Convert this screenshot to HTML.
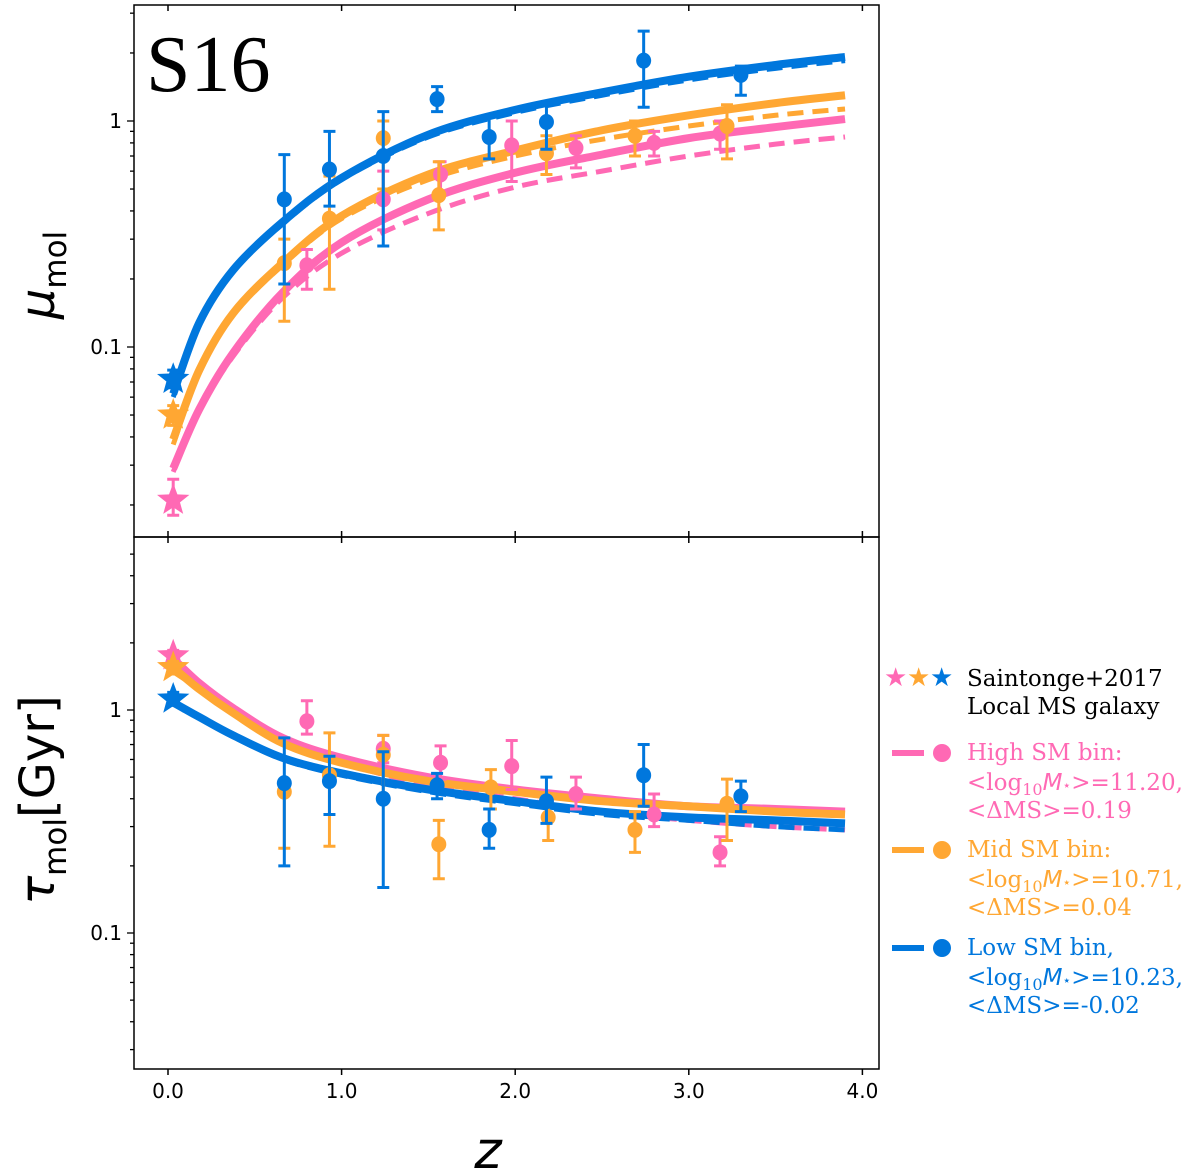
<!DOCTYPE html>
<html><head><meta charset="utf-8"><style>
body{margin:0;background:#fff;width:1200px;height:1174px;overflow:hidden}
svg{display:block}
.tk{font-family:"DejaVu Sans",sans-serif;font-size:20px;fill:#000}
.lg{font-family:"DejaVu Serif",serif;font-size:23px}
</style></head><body>
<svg id="c" width="1200" height="1174" xmlns="http://www.w3.org/2000/svg">
<rect x="134" y="5" width="745" height="532" fill="none" stroke="#000" stroke-width="1.5"/>
<rect x="134" y="537" width="745" height="532" fill="none" stroke="#000" stroke-width="1.5"/>
<text x="146" y="91" font-family="'Liberation Serif',serif" font-size="80">S16</text>
<text transform="translate(54,275) rotate(-90)" text-anchor="middle" font-family="'DejaVu Sans',sans-serif" font-size="48"><tspan font-style="italic">μ</tspan><tspan font-size="31" dy="12">mol</tspan></text>
<text transform="translate(54,800) rotate(-90)" text-anchor="middle" font-family="'DejaVu Sans',sans-serif" font-size="48"><tspan font-style="italic">τ</tspan><tspan font-size="31" dy="12">mol</tspan><tspan dy="-12">[Gyr]</tspan></text>
<text x="488" y="1168" text-anchor="middle" font-family="'DejaVu Sans',sans-serif" font-style="italic" font-size="52">z</text>
<g id="legend">
<text x="884" y="686" fill="#ff69b4" font-size="26">★</text>
<text x="907" y="686" fill="#ffa733" font-size="26">★</text>
<text x="930" y="686" fill="#0077dd" font-size="26">★</text>
<text class="lg" x="967" y="686" fill="#000">Saintonge+2017</text>
<text class="lg" x="967" y="714" fill="#000">Local MS galaxy</text>
<line x1="892" y1="753" x2="924" y2="753" stroke="#ff69b4" stroke-width="6"/>
<circle cx="942" cy="753" r="9" fill="#ff69b4"/>
<text class="lg" x="967" y="760" fill="#ff69b4">High SM bin:</text>
<text class="lg" x="967" y="790" fill="#ff69b4">&lt;log<tspan font-size="16" dy="5">10</tspan><tspan dy="-5" font-family="'DejaVu Sans',sans-serif" font-style="italic">M</tspan><tspan font-size="14">⋆</tspan>&gt;=11.20,</text>
<text class="lg" x="967" y="818" fill="#ff69b4">&lt;ΔMS&gt;=0.19</text>
<line x1="892" y1="850" x2="924" y2="850" stroke="#ffa733" stroke-width="6"/>
<circle cx="942" cy="850" r="9" fill="#ffa733"/>
<text class="lg" x="967" y="857" fill="#ffa733">Mid SM bin:</text>
<text class="lg" x="967" y="887" fill="#ffa733">&lt;log<tspan font-size="16" dy="5">10</tspan><tspan dy="-5" font-family="'DejaVu Sans',sans-serif" font-style="italic">M</tspan><tspan font-size="14">⋆</tspan>&gt;=10.71,</text>
<text class="lg" x="967" y="915" fill="#ffa733">&lt;ΔMS&gt;=0.04</text>
<line x1="892" y1="948" x2="924" y2="948" stroke="#0077dd" stroke-width="6"/>
<circle cx="942" cy="948" r="9" fill="#0077dd"/>
<text class="lg" x="967" y="955" fill="#0077dd">Low SM bin,</text>
<text class="lg" x="967" y="985" fill="#0077dd">&lt;log<tspan font-size="16" dy="5">10</tspan><tspan dy="-5" font-family="'DejaVu Sans',sans-serif" font-style="italic">M</tspan><tspan font-size="14">⋆</tspan>&gt;=10.23,</text>
<text class="lg" x="967" y="1013" fill="#0077dd">&lt;ΔMS&gt;=-0.02</text>
</g>
<g id="plot"></g>
</svg>
<script>
const xTicks=[0,1,2,3,4];
const xTickLabels=["0.0","1.0","2.0","3.0","4.0"];
const curveZ=[0.03,0.18,0.375,0.66,1.0,1.5,2.0,2.5,3.0,3.5,3.9];
// top panel curves (mu_mol)
const muBlueSolid=[0.062,0.128,0.219,0.357,0.56,0.87,1.12,1.34,1.57,1.77,1.92];
const muBlueDash=[0.060,0.125,0.215,0.35,0.55,0.85,1.09,1.30,1.52,1.71,1.85];
const muOrangeSolid=[0.039,0.079,0.141,0.235,0.38,0.58,0.74,0.91,1.06,1.20,1.30];
const muOrangeDash=[0.037,0.077,0.138,0.23,0.37,0.55,0.70,0.83,0.95,1.06,1.13];
const muPinkSolid=[0.029,0.053,0.094,0.174,0.29,0.45,0.59,0.71,0.84,0.94,1.02];
const muPinkDash=[0.028,0.052,0.091,0.165,0.26,0.39,0.51,0.60,0.70,0.79,0.85];
// bottom panel curves (tau_mol)
const tauPinkSolid=[1.7,1.32,1.02,0.75,0.61,0.50,0.44,0.40,0.37,0.36,0.35];
const tauOrangeSolid=[1.55,1.24,0.97,0.71,0.58,0.48,0.43,0.39,0.37,0.35,0.34];
const tauBlueSolid=[1.08,0.93,0.77,0.61,0.52,0.44,0.39,0.35,0.33,0.32,0.31];
const tauBlueDash=[1.08,0.92,0.76,0.60,0.51,0.43,0.38,0.34,0.32,0.30,0.29];
const tauPinkDash=[1.7,1.30,1.0,0.73,0.58,0.46,0.40,0.35,0.32,0.30,0.29];
// points
const muBlueZ=[0.67,0.93,1.24,1.55,1.85,2.18,2.74,3.30];
const muBlueV=[0.45,0.61,0.70,1.25,0.85,0.99,1.85,1.6];
const muBlueLo=[0.19,0.42,0.28,1.1,0.68,0.75,1.15,1.3];
const muBlueHi=[0.71,0.90,1.1,1.42,1.05,1.2,2.5,1.75];
const muOrangeZ=[0.67,0.93,1.24,1.56,2.18,2.69,3.22];
const muOrangeV=[0.235,0.37,0.84,0.47,0.72,0.86,0.95];
const muOrangeLo=[0.13,0.18,0.5,0.33,0.58,0.70,0.68];
const muOrangeHi=[0.30,0.57,1.0,0.66,0.86,1.0,1.18];
const muPinkZ=[0.80,1.24,1.57,1.98,2.35,2.80,3.18];
const muPinkV=[0.23,0.45,0.58,0.78,0.76,0.80,0.88];
const muPinkLo=[0.18,0.33,0.49,0.54,0.62,0.70,0.75];
const muPinkHi=[0.27,0.60,0.66,1.0,0.86,0.90,1.0];
const tauBlueZ=[0.67,0.93,1.24,1.55,1.85,2.18,2.74,3.30];
const tauBlueV=[0.47,0.48,0.40,0.46,0.29,0.39,0.51,0.41];
const tauBlueLo=[0.20,0.34,0.16,0.40,0.24,0.31,0.37,0.35];
const tauBlueHi=[0.75,0.62,0.65,0.52,0.36,0.50,0.70,0.48];
const tauOrangeZ=[0.67,0.93,1.24,1.56,1.86,2.19,2.69,3.22];
const tauOrangeV=[0.43,0.51,0.63,0.25,0.45,0.33,0.29,0.38];
const tauOrangeLo=[0.24,0.245,0.40,0.175,0.36,0.26,0.23,0.26];
const tauOrangeHi=[0.43,0.79,0.77,0.32,0.54,0.40,0.35,0.49];
const tauPinkZ=[0.80,1.24,1.57,1.98,2.35,2.80,3.18];
const tauPinkV=[0.89,0.67,0.58,0.56,0.42,0.34,0.23];
const tauPinkLo=[0.78,0.58,0.49,0.44,0.36,0.30,0.20];
const tauPinkHi=[1.1,0.77,0.69,0.73,0.50,0.42,0.27];
// stars (Saintonge+2017)
const starZ=[0.03,0.03,0.03];
const muStarV=[0.021,0.050,0.072];
const muStarLo=[0.018,0.045,0.066];
const muStarHi=[0.026,0.055,0.079];
const tauStarV=[1.75,1.55,1.12];
const tauStarLo=[1.65,1.45,1.05];
const tauStarHi=[1.85,1.65,1.2];
const starColors=["#ff69b4","#ffa733","#0077dd"];

const PINK="#ff69b4",ORANGE="#ffa733",BLUE="#0077dd";
const NS="http://www.w3.org/2000/svg";
const g=document.getElementById('plot');
const X=z=>168+173.6*z;
const Ytop=v=>121-226*Math.log10(v);
const Ybot=v=>710-223*Math.log10(v);
function mk(t,a){const e=document.createElementNS(NS,t);for(const k in a)e.setAttribute(k,a[k]);g.appendChild(e);return e;}
function smooth(xs,ys){let d="M"+xs[0]+","+ys[0];for(let i=0;i<xs.length-1;i++){const x0=xs[Math.max(i-1,0)],y0=ys[Math.max(i-1,0)],x3=xs[Math.min(i+2,xs.length-1)],y3=ys[Math.min(i+2,xs.length-1)];const c1x=xs[i]+(xs[i+1]-x0)/6,c1y=ys[i]+(ys[i+1]-y0)/6,c2x=xs[i+1]-(x3-xs[i])/6,c2y=ys[i+1]-(y3-ys[i])/6;d+=` C${c1x},${c1y} ${c2x},${c2y} ${xs[i+1]},${ys[i+1]}`;}return d;}
function curve(vals,Y,col,dash,name){
  const p=mk('path',{d:smooth(curveZ.map(X),vals.map(Y)),fill:'none',stroke:col,'stroke-width':dash?5:8,'stroke-dasharray':dash?'16,9':'none'});
  
  
}
function pts(zs,vs,lo,hi,Y,col,name){
  zs.forEach((z,i)=>{
    const x=X(z);
    const l=mk('path',{d:`M${x},${Y(lo[i])}V${Y(hi[i])}M${x-6},${Y(lo[i])}H${x+6}M${x-6},${Y(hi[i])}H${x+6}`,stroke:col,'stroke-width':3,fill:'none'});
    
    
    const c=mk('ellipse',{cx:x,cy:Y(vs[i]),rx:7.5,ry:8,fill:col});
    
    
  });
}
function star(x,y,col,r){let d="";for(let k=0;k<10;k++){const a=-Math.PI/2+k*Math.PI/5,rr=k%2?r*0.42:r;d+=(k?"L":"M")+(x+rr*Math.cos(a))+","+(y+rr*Math.sin(a));}return d+"Z";}
function stars(vals,lo,hi,Y,name){
  vals.forEach((v,i)=>{const x=X(starZ[i]);
    const l=mk('path',{d:`M${x},${Y(lo[i])}V${Y(hi[i])}M${x-6},${Y(lo[i])}H${x+6}M${x-6},${Y(hi[i])}H${x+6}`,stroke:starColors[i],'stroke-width':3});
    
    
    const s=mk('path',{d:star(x,Y(v),starColors[i],17),fill:starColors[i]});
    
    
  });
}
// top curves
curve(muPinkDash,Ytop,PINK,true,'mu-high-dashed');
curve(muOrangeDash,Ytop,ORANGE,true,'mu-mid-dashed');
curve(muBlueDash,Ytop,BLUE,true,'mu-low-dashed');
curve(muPinkSolid,Ytop,PINK,false,'mu-high-fit');
curve(muOrangeSolid,Ytop,ORANGE,false,'mu-mid-fit');
curve(muBlueSolid,Ytop,BLUE,false,'mu-low-fit');
pts(muPinkZ,muPinkV,muPinkLo,muPinkHi,Ytop,PINK,'mu-high');
pts(muOrangeZ,muOrangeV,muOrangeLo,muOrangeHi,Ytop,ORANGE,'mu-mid');
pts(muBlueZ,muBlueV,muBlueLo,muBlueHi,Ytop,BLUE,'mu-low');
stars(muStarV,muStarLo,muStarHi,Ytop,'mu-star');
// bottom curves
curve(tauPinkDash,Ybot,PINK,true,'tau-high-dashed');
curve(tauPinkSolid,Ybot,PINK,false,'tau-high-fit');
curve(tauOrangeSolid,Ybot,ORANGE,false,'tau-mid-fit');
curve(tauBlueDash,Ybot,BLUE,true,'tau-low-dashed');
curve(tauBlueSolid,Ybot,BLUE,false,'tau-low-fit');
pts(tauPinkZ,tauPinkV,tauPinkLo,tauPinkHi,Ybot,PINK,'tau-high');
pts(tauOrangeZ,tauOrangeV,tauOrangeLo,tauOrangeHi,Ybot,ORANGE,'tau-mid');
pts(tauBlueZ,tauBlueV,tauBlueLo,tauBlueHi,Ybot,BLUE,'tau-low');
stars(tauStarV,tauStarLo,tauStarHi,Ybot,'tau-star');
// x ticks
xTicks.forEach((t,i)=>{const x=X(t);
  const a=mk('path',{d:`M${x},537v-6M${x},537v6M${x},1069v6M${x},5v6`,stroke:'#000','stroke-width':1.5});
  
  
  const tx=mk('text',{x:x,y:1098,'text-anchor':'middle',class:'tk'});tx.textContent=xTickLabels[i];
  
  
});
// y ticks
function yticks(Y,lo,hi,name){
  for(let e=-2;e<=1;e++)for(let m=1;m<10;m++){const v=m*Math.pow(10,e);if(v<lo||v>hi)continue;const y=Y(v);
    const t=mk('line',{x1:134,x2:m==1?127:130,y1:y,y2:y,stroke:'#000','stroke-width':1.3});
    
    
    if(m==1&&(e==-1||e==0)){const tx=mk('text',{x:122,y:y+7,'text-anchor':'end',class:'tk'});tx.textContent=e==0?'1':'0.1';
      
      }
  }
}
yticks(Ytop,0.0145,3.2,'y-top');
yticks(Ybot,0.025,5.9,'y-bottom');
</script>
</body></html>
